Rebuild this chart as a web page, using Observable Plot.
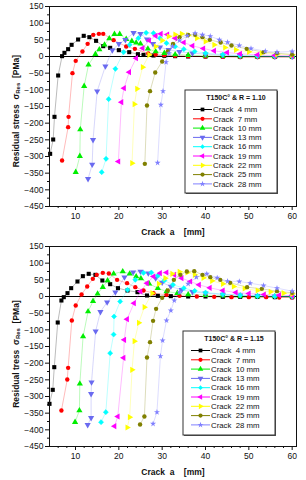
<!DOCTYPE html>
<html><head><meta charset="utf-8">
<script src="https://cdn.jsdelivr.net/npm/d3@7"></script>
<script src="https://cdn.jsdelivr.net/npm/@observablehq/plot@0.6"></script>
<style>
body{margin:0;background:#fff;font-family:"Liberation Sans",Arial,sans-serif;}
.panel{position:relative;width:306px;height:240px;overflow:hidden;}
.ylab{position:absolute;left:16px;white-space:pre;font-weight:bold;font-size:8.5px;color:#111;transform:translate(-50%,-50%) rotate(-90deg);}
.ylab sub{font-size:6px;vertical-align:-1px;}
.xlab{position:absolute;left:173px;top:232px;white-space:pre;font-weight:bold;font-size:8.5px;color:#111;transform:translate(-50%,-50%);}
svg.leg{position:absolute;left:0;top:0;}
</style></head><body>
<div id="p1" class="panel"></div>
<div id="p2" class="panel"></div>
<script>
// ---- data ----
const seriesNames = ["Crack  4 mm","Crack  7 mm","Crack  10 mm","Crack  13 mm","Crack  16 mm","Crack  19 mm","Crack  22 mm","Crack  25 mm","Crack  28 mm"];
const seriesColors = ["#000000","#ff0000","#00ee00","#6a6af0","#00ffff","#ff00ff","#ffff00","#808000","#8080ff"];
const seriesSymbols = ["square","circle","triangle","triDown","diamond2","triLeft","triRight","circle","star"];
const xTickValues = [10,20,30,40,50,60];
const yTickValues = [-450,-400,-350,-300,-250,-200,-150,-100,-50,0,50,100,150];
const panelTitles = ["T150C\u00b0 & R = 1.10","T150C\u00b0 & R = 1.15"];
const yLabels = ["Residual stress  \u03c3<sub>Res</sub>  [PMa]","Residual tress  \u03c3<sub>Res</sub>  [PMa]"];

// R = 1.10
const r110_4 = [[4.15,-292],[4.85,-249],[5.15,-181],[6.0,-57],[6.9,1],[7.45,11],[8.3,22],[9.1,35],[10.6,51],[11.9,62],[13.2,58],[14.75,47],[16.4,31],[18,26],[20,19],[22.4,13],[24.4,7],[25.7,5],[28,3],[30.5,2],[33,1],[36,0],[40,0],[44,0],[48,-1],[52,-1],[56,-1],[60,-1]];
const r110_7 = [[6.9,-312],[8.3,-212],[8.4,-181],[9.3,-50],[10.05,-13],[11.6,15],[12.8,38],[14.1,65],[15.4,68],[16.4,68],[18.8,49],[21.7,30],[23.7,23],[26.8,9],[28.5,6],[30.5,4],[33,2],[36,1],[40,0],[44,-1],[48,-2],[52,-2],[56,-2],[60,-2]];
const r110_10 = [[10.05,-347],[11,-299],[11.1,-219],[12,-89],[13,-25],[14.6,7],[15.5,21],[16.7,35],[17.8,54],[19,67],[20.2,67],[21.7,52],[23,46],[24,41],[25,38],[26.7,23],[28.5,15],[30.5,10],[33,6],[36,4],[40,2],[44,1],[48,0],[52,0],[56,0],[60,0]];
const r110_13 = [[12.9,-367],[13.85,-324],[14.05,-250],[15,-104],[16.9,-29],[18.5,19],[20,38],[21.5,50],[23.4,71],[25,68],[26.5,52],[27.9,38],[29.5,28],[31.5,20],[34,14],[37,10],[40,7],[44,4],[48,2],[52,1],[56,0],[60,0]];
const r110_16 = [[16.05,-347],[17.05,-307],[17.65,-128],[19.2,-37],[21.1,13],[22.5,35],[24.5,55],[26.3,71],[28,70],[29.5,55],[31,40],[33,30],[35,22],[37.5,15],[40,10],[44,6],[48,3],[52,2],[56,1],[60,0]];
const r110_19 = [[19.9,-315],[20.6,-137],[21.2,-95],[22.4,-47],[24,-5],[25.5,25],[27,48],[28.5,62],[29.7,68],[31.2,66],[33,55],[35,42],[37,32],[39.5,24],[42,17],[45,12],[48,8],[52,5],[56,3],[60,2]];
const r110_22 = [[23.05,-320],[23.6,-143],[24.2,-97],[25.5,-32],[27,5],[28.5,30],[30,48],[31.5,60],[33,66],[34.5,68],[36,64],[38,55],[40,45],[42,35],[44.5,27],[47,20],[50,14],[53,10],[56.5,7],[60,5]];
const r110_25 = [[26,-322],[26.5,-147],[27.2,-104],[28.4,-48],[30,-15],[31.3,15],[32.5,38],[34,58],[36,65],[37.6,65],[39.3,58],[41,50],[43.5,42],[46,33],[49.5,23],[53.4,13],[56.5,10],[60,6]];
const r110_28 = [[28.95,-319],[29.7,-145],[30.2,-104],[30.9,-17],[31.6,10],[32.4,30],[34,48],[35.8,62],[37.6,70],[39.3,65],[41.1,61],[43.2,50],[45.1,43],[47.8,33],[50.5,24],[53.8,16],[56.5,13],[60,15]];

// R = 1.15
const r115_4 = [[4.0,-322],[4.75,-280],[5.1,-212],[5.9,-78],[6.75,-12],[7.3,-2],[8.15,10],[9,25],[10.45,45],[11.7,61],[13.05,68],[14.6,65],[16.2,48],[18,37],[19.8,25],[22,18],[24.3,13],[26.5,3],[29,2],[32,1],[36,0],[40,0],[44,-1],[48,-1],[52,-1],[56,-2],[60,-2]];
const r115_7 = [[6.75,-342],[8.1,-249],[8.3,-214],[9.15,-72],[10.05,-27],[11.4,6],[12.7,30],[14,53],[14.9,65],[16.3,71],[17.7,69],[19.6,50],[21.9,40],[23.8,28],[25.7,18],[28,10],[31,5],[34,2],[38,0],[42,-1],[46,-2],[50,-2],[54,-2],[57,-3],[60,-3]];
const r115_10 = [[9.9,-377],[10.9,-342],[11,-262],[11.75,-120],[12.9,-45],[14.05,-14],[15.1,8],[16.3,28],[17.4,48],[18.8,68],[20.9,75],[22.5,68],[24,60],[25.1,54],[27,38],[29,25],[31,15],[33.5,10],[36,6],[40,4],[44,2],[48,1],[52,0],[56,0],[60,0]];
const r115_13 = [[12.8,-385],[13.6,-364],[13.6,-292],[13.7,-257],[14.65,-104],[15.75,-46],[17.3,-17],[19.2,13],[21.3,58],[23.3,73],[25,75],[26.8,70],[28.5,55],[30,42],[32,30],[34.5,20],[37,14],[40,10],[44,6],[48,4],[52,2],[56,1],[60,0]];
const r115_16 = [[15.9,-377],[17,-347],[18,-170],[18.8,-114],[18.9,-60],[20.3,-15],[22,20],[23.8,50],[25.7,71],[27.5,72],[29,62],[30.5,48],[32.5,35],[35,25],[37.5,17],[40,12],[44,7],[48,4],[52,2],[56,1],[60,1]];
const r115_19 = [[19,-389],[19.75,-360],[21.1,-184],[21.25,-130],[21.9,-68],[23.5,-20],[25,15],[26.5,40],[28,60],[29.5,70],[31,72],[32.8,65],[34.5,55],[36.5,45],[38.5,35],[41,26],[44,18],[47,12],[50,9],[53.5,6],[57,4],[60,3]];
const r115_22 = [[21.95,-393],[22.5,-362],[23.05,-220],[23.6,-134],[24.6,-79],[25.9,-32],[27.7,10],[29.2,38],[30.7,55],[32.3,68],[34,74],[35.8,72],[37.5,65],[39.5,56],[41.5,47],[44,38],[46.5,30],[49,24],[52,18],[55,14],[58,10],[60,8]];
const r115_25 = [[24.9,-384],[25.9,-360],[26.5,-183],[27.2,-137],[27.9,-73],[28.6,-37],[30,-4],[31.3,18],[32.7,50],[34.2,65],[35.7,75],[37.4,76],[39.3,65],[41.1,58],[43.4,50],[45.7,41],[49.6,28],[53,23],[56.5,16],[60,11]];
const r115_28 = [[27.9,-382],[28.8,-347],[29.6,-179],[30.1,-132],[31,-72],[32,-42],[32.8,-12],[34,13],[36,38],[37.9,58],[40.3,68],[42.7,56],[45.1,46],[47.8,45],[50.3,40],[53.4,33],[56.5,25],[60,16]];

const panelData = [
  [r110_4,r110_7,r110_10,r110_13,r110_16,r110_19,r110_22,r110_25,r110_28],
  [r115_4,r115_7,r115_10,r115_13,r115_16,r115_19,r115_22,r115_25,r115_28]
];

// ---- custom triangle symbols ----
const sqrt3 = Math.sqrt(3);
function tri(dir){
  return {draw(ctx,size){
    const y = -Math.sqrt(size/(sqrt3*3));
    let pts = [[0,y*2],[-sqrt3*y,-y],[sqrt3*y,-y]];
    pts = pts.map(([px,py]) => dir==="down"?[px,-py]:dir==="left"?[py,px]:dir==="right"?[-py,px]:[px,py]);
    ctx.moveTo(pts[0][0],pts[0][1]); ctx.lineTo(pts[1][0],pts[1][1]); ctx.lineTo(pts[2][0],pts[2][1]); ctx.closePath();
  }};
}
const symMap = {triDown:tri("down"),triLeft:tri("left"),triRight:tri("right")};
const symOf = s => symMap[s] || s;
const d3SymOf = s => symMap[s] || ({square:d3.symbolSquare,circle:d3.symbolCircle,triangle:d3.symbolTriangle,diamond2:d3.symbolDiamond2,star:d3.symbolStar})[s];
const symR = s => s==="star"?1.9:s==="circle"?2.2:2.3;

const minorX = d3.range(6,61,2).filter(v => v%10!==0);
const minorY = d3.range(-425,150,50);

function drawPanel(el, data, k){
  const marks = [];
  marks.push(Plot.ruleY([0],{stroke:"#000",strokeWidth:1}));
  data.forEach((pts,i)=>marks.push(Plot.line(pts,{x:d=>d[0],y:d=>d[1],stroke:seriesColors[i],strokeWidth:0.6,strokeOpacity:0.45})));
  data.forEach((pts,i)=>{
    const sym = seriesSymbols[i];
    marks.push(Plot.dot(pts,{x:d=>d[0],y:d=>d[1],symbol:symOf(sym),fill:seriesColors[i],stroke:sym==="diamond2"?seriesColors[i]:"none",strokeWidth:0.5,r:symR(sym)}));
  });
  marks.push(Plot.axisX({ticks:minorX,tickSize:2,tickFormat:()=>"",label:null}));
  marks.push(Plot.axisX({ticks:xTickValues,tickSize:4,tickPadding:2,label:null}));
  marks.push(Plot.axisY({ticks:minorY,tickSize:2,tickFormat:()=>"",label:null}));
  marks.push(Plot.axisY({ticks:yTickValues,tickSize:4,tickPadding:2,label:null}));
  marks.push(Plot.frame({stroke:"#111",strokeWidth:1}));
  const svg = Plot.plot({
    width:306,height:240,marginLeft:49,marginRight:10,marginTop:6,marginBottom:34,
    style:{fontFamily:"Liberation Sans, Arial, sans-serif",fontSize:"8.5px",color:"#111",background:"#fff"},
    x:{domain:[4,61]},y:{domain:[-450,150]},
    marks
  });
  el.appendChild(svg);
  const yl = document.createElement("div"); yl.className="ylab"; yl.innerHTML=yLabels[k]; yl.style.top = (k===0?111:114)+"px"; el.appendChild(yl);
  const xl = document.createElement("div"); xl.className="xlab"; xl.textContent="Crack  a    [mm]"; el.appendChild(xl);

  // legend
  const L = k===0 ? {x:185,y:90,w:92,h:103,lx0:193,lx1:212,tx:213} : {x:183,y:91,w:92,h:104,lx0:191,lx1:210,tx:211};
  const leg = d3.select(el).append("svg").attr("class","leg").attr("width",306).attr("height",240);
  leg.append("rect").attr("x",L.x+1).attr("y",L.y+1).attr("width",L.w).attr("height",L.h).attr("fill","#555");
  leg.append("rect").attr("x",L.x).attr("y",L.y).attr("width",L.w).attr("height",L.h).attr("fill","#fff").attr("stroke","#333").attr("stroke-width",1);
  leg.append("text").attr("x",L.x+L.w/2+5).attr("y",L.y+8).attr("dy","0.35em").attr("text-anchor","middle")
    .attr("font-size","7px").attr("font-weight","bold").attr("fill","#111").text(panelTitles[k]);
  seriesNames.forEach((name,i)=>{
    const y = L.y+19.5+i*9.3;
    leg.append("line").attr("x1",L.lx0).attr("x2",L.lx1).attr("y1",y).attr("y2",y).attr("stroke",seriesColors[i]).attr("stroke-width",1);
    const sym = seriesSymbols[i];
    const size = Math.PI*(sym==="star"?1.9:2.1)**2;
    leg.append("path").attr("transform",`translate(${(L.lx0+L.lx1)/2},${y})`).attr("d",d3.symbol(d3SymOf(sym),size)()).attr("fill",seriesColors[i]);
    leg.append("text").attr("x",L.tx).attr("y",y).attr("dy","0.35em").attr("font-size","7.8px").attr("fill","#111").attr("xml:space","preserve").style("white-space","pre").text(name);
  });
}
drawPanel(document.getElementById("p1"), panelData[0], 0);
drawPanel(document.getElementById("p2"), panelData[1], 1);
</script>
</body></html>
